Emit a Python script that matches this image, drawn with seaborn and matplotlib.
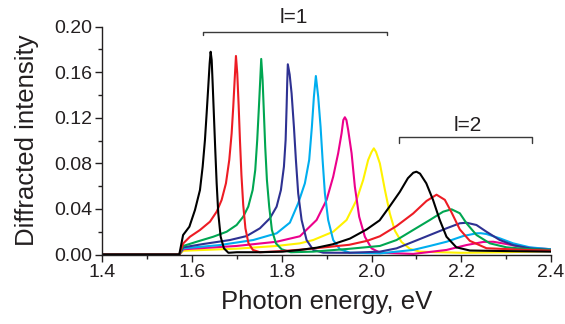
import numpy as np
import pandas as pd
import matplotlib
matplotlib.use("Agg")
import matplotlib.pyplot as plt
import seaborn as sns
from matplotlib.ticker import MultipleLocator, FormatStrFormatter

sns.set_theme(style="ticks")
plt.rcParams['font.family'] = ['Liberation Sans', 'DejaVu Sans']

# ---------------- data ----------------
black_x = [1.40, 1.5715, 1.580, 1.594, 1.6065, 1.6176, 1.6236, 1.6287, 1.6325, 1.6361, 1.6392,
           1.6414, 1.6437, 1.6459, 1.6488, 1.6517, 1.6548, 1.6584, 1.6637, 1.671, 1.681,
           1.70, 1.75, 1.8025, 1.840, 1.878, 1.914, 1.952, 1.989, 2.018, 2.040, 2.063,
           2.081, 2.093, 2.100, 2.108, 2.122, 2.137, 2.152, 2.167, 2.189, 2.219, 2.30, 2.40]
black_y = [0, 0, 0.0171, 0.0244, 0.0391, 0.0566, 0.0771, 0.1005, 0.124, 0.1473, 0.1679,
           0.178, 0.1708, 0.150, 0.121, 0.0918, 0.0625, 0.0362, 0.0156, 0.0054, 0.0015,
           0.002, 0.002, 0.0025, 0.004, 0.006, 0.009, 0.014, 0.022, 0.030, 0.042, 0.055,
           0.067, 0.0718, 0.0727, 0.071, 0.0625, 0.0479, 0.0303, 0.0156, 0.0063, 0.0035, 0.003, 0.0025]

red_x = [1.40, 1.5715, 1.5804, 1.5953, 1.6176, 1.6399, 1.6548, 1.6659, 1.6755, 1.6829, 1.6882,
         1.6918, 1.6949, 1.6978, 1.7007, 1.7038, 1.7067, 1.710, 1.714, 1.7189, 1.7256, 1.7356,
         1.7512, 1.80, 1.85, 1.90, 1.95, 1.99, 2.0185, 2.0557, 2.0927, 2.1225, 2.1448, 2.1633,
         2.1782, 2.1967, 2.219, 2.2561, 2.3452, 2.40]
red_y = [0, 0, 0.0098, 0.0156, 0.0215, 0.0288, 0.0376, 0.0479, 0.0625, 0.083, 0.1064,
         0.1298, 0.1532, 0.1743, 0.159, 0.131, 0.1005, 0.070, 0.0435, 0.023, 0.010, 0.004,
         0.002, 0.003, 0.0045, 0.0065, 0.0085, 0.012, 0.016, 0.025, 0.036, 0.047, 0.0525, 0.048,
         0.037, 0.022, 0.012, 0.0055, 0.004, 0.0035]

green_x = [1.40, 1.5715, 1.5804, 1.6102, 1.6472, 1.6771, 1.6993, 1.714, 1.7252, 1.735, 1.7408,
           1.7452, 1.749, 1.7519, 1.7541, 1.7572, 1.7601, 1.763, 1.7668, 1.7719, 1.7779, 1.7869,
           1.7996, 1.82, 1.87, 1.95, 2.0185, 2.0557, 2.0927, 2.1299, 2.1596, 2.1782, 2.1967,
           2.2116, 2.2339, 2.2636, 2.3007, 2.3534, 2.40]
green_y = [0, 0, 0.0075, 0.0112, 0.0156, 0.020, 0.0259, 0.0332, 0.042, 0.0566, 0.0742,
           0.1005, 0.1298, 0.1532, 0.1717, 0.1532, 0.124, 0.0947, 0.0654, 0.042, 0.0215, 0.0098,
           0.0046, 0.002, 0.0025, 0.005, 0.0075, 0.0127, 0.0215, 0.0303, 0.0376, 0.0397, 0.0362,
           0.0274, 0.0171, 0.0098, 0.0063, 0.0046, 0.004]

navy_x = [1.40, 1.5715, 1.5804, 1.6249, 1.6844, 1.7216, 1.7512, 1.7735, 1.7884, 1.798, 1.8047,
          1.8085, 1.8107, 1.812, 1.8134, 1.8175, 1.8218, 1.827, 1.8314, 1.8365, 1.8441, 1.8552,
          1.870, 1.8922, 1.95, 2.0185, 2.0557, 2.0927, 2.1299, 2.1671, 2.1967, 2.2116, 2.2338,
          2.256, 2.2857, 2.3154, 2.3526, 2.40]
navy_y = [0, 0, 0.0063, 0.0092, 0.0127, 0.0162, 0.023, 0.0318, 0.042, 0.0566, 0.0771,
          0.1005, 0.1298, 0.150, 0.167, 0.158, 0.1415, 0.112, 0.083, 0.0537, 0.0303, 0.0127,
          0.004, 0.0016, 0.0015, 0.0025, 0.0054, 0.0112, 0.0171, 0.023, 0.0274, 0.0279, 0.0259,
          0.020, 0.0127, 0.0083, 0.0054, 0.004]

cyan_x = [1.40, 1.5715, 1.5804, 1.6621, 1.7363, 1.7884, 1.818, 1.8365, 1.8514, 1.861, 1.867,
          1.8715, 1.8759, 1.8811, 1.8864, 1.8909, 1.896, 1.9033, 1.9145, 1.9294, 1.9517,
          2.0185, 2.0927, 2.1299, 2.1671, 2.2041, 2.2338, 2.2435, 2.256, 2.2857, 2.3154, 2.3526, 2.40]
cyan_y = [0, 0, 0.0054, 0.0083, 0.0127, 0.0186, 0.028, 0.045, 0.0625, 0.083, 0.112,
          0.1385, 0.1567, 0.1385, 0.112, 0.083, 0.0537, 0.0303, 0.0127, 0.0046, 0.0016,
          0.001, 0.004, 0.0075, 0.0112, 0.0162, 0.0186, 0.0187, 0.018, 0.0142, 0.0098, 0.0063, 0.0046]

magenta_x = [1.40, 1.5715, 1.5804, 1.6993, 1.7884, 1.8403, 1.8775, 1.8998, 1.9145, 1.9256, 1.9332,
             1.937, 1.9405, 1.944, 1.9479, 1.9555, 1.9628, 1.9724, 1.9851, 2.000, 2.0185,
             2.0927, 2.1671, 2.2116, 2.2487, 2.271, 2.3007, 2.3378, 2.40]
magenta_y = [0, 0, 0.0046, 0.0075, 0.0112, 0.016, 0.0303, 0.0479, 0.0683, 0.0889, 0.1064,
             0.118, 0.1205, 0.118, 0.1093, 0.0889, 0.0595, 0.0332, 0.0156, 0.0054, 0.0016,
             0.0005, 0.004, 0.0083, 0.011, 0.0112, 0.0092, 0.0063, 0.0046]

yellow_x = [1.40, 1.5715, 1.5804, 1.6993, 1.7884, 1.8403, 1.870, 1.9145, 1.9443, 1.9666, 1.9813,
            1.9924, 2.000, 2.0051, 2.010, 2.0185, 2.0296, 2.0407, 2.0519, 2.0668, 2.0853,
            2.1075, 2.20, 2.30, 2.40]
yellow_y = [0, 0, 0.0033, 0.0051, 0.0075, 0.0098, 0.0127, 0.020, 0.0303, 0.0479, 0.0654,
            0.083, 0.090, 0.0932, 0.090, 0.080, 0.057, 0.036, 0.021, 0.011, 0.005,
            0.0025, 0.0015, 0.002, 0.003]

curve_names = ["black", "red", "green", "navy", "cyan", "magenta", "yellow"]
curve_colors = ["#000000", "#ed1c24", "#00a651", "#2e3192", "#00aeef", "#ec008c", "#fff200"]
xs_all = [black_x, red_x, green_x, navy_x, cyan_x, magenta_x, yellow_x]
ys_all = [black_y, red_y, green_y, navy_y, cyan_y, magenta_y, yellow_y]

xticks = [1.4, 1.6, 1.8, 2.0, 2.2, 2.4]
yticks = [0.00, 0.04, 0.08, 0.12, 0.16, 0.20]

frames = []
for name, xs, ys in zip(curve_names, xs_all, ys_all):
    frames.append(pd.DataFrame({"curve": name, "energy": xs, "intensity": ys}))
df = pd.concat(frames, ignore_index=True)

# ---------------- figure ----------------
fig = plt.figure(figsize=(5.65, 3.24), dpi=100)
ax = fig.add_axes([0.1811, 0.2145, 0.7942, 0.7031])

draw_order = ["yellow", "magenta", "cyan", "navy", "green", "red", "black"]
palette = dict(zip(curve_names, curve_colors))
sns.lineplot(data=df, x="energy", y="intensity", hue="curve", hue_order=draw_order,
             palette=palette, estimator=None, sort=False, legend=False,
             linewidth=1.5, ax=ax)

ax.set_xlim(1.4, 2.4)
ax.set_ylim(0.0, 0.20)
ax.set_xticks(xticks)
ax.set_yticks(yticks)
ax.xaxis.set_minor_locator(MultipleLocator(0.1))
ax.yaxis.set_minor_locator(MultipleLocator(0.02))
ax.xaxis.set_major_formatter(FormatStrFormatter('%.1f'))
ax.yaxis.set_major_formatter(FormatStrFormatter('%.2f'))

dark = "#231f20"
sns.despine(ax=ax)
for s in ["left", "bottom"]:
    ax.spines[s].set_linewidth(1.0)
    ax.spines[s].set_color(dark)
ax.tick_params(which="major", direction="out", length=5, width=1.0, color=dark,
               labelsize=14, labelcolor=dark, pad=2)
ax.tick_params(which="minor", direction="out", length=3, width=1.0, color=dark)

ax.set_xlabel("Photon energy, eV", fontsize=18.5, color=dark, labelpad=6)
ax.set_ylabel("Diffracted intensity", fontsize=18.5, color=dark, labelpad=11)

# brackets with labels
bk = "#3a3a3a"
ax.plot([1.624, 1.624, 2.034, 2.034], [0.1924, 0.1954, 0.1954, 0.1924],
        color=bk, lw=1.0, clip_on=False)
ax.text(1.826, 0.208, "l=1", ha="center", va="center", fontsize=15, color=dark, clip_on=False)
ax.plot([2.061, 2.061, 2.357, 2.357], [0.098, 0.1032, 0.1032, 0.098],
        color=bk, lw=1.0, clip_on=False)
ax.text(2.215, 0.1133, "l=2", ha="center", va="center", fontsize=15, color=dark, clip_on=False)

fig.savefig("out.png", dpi=100)
